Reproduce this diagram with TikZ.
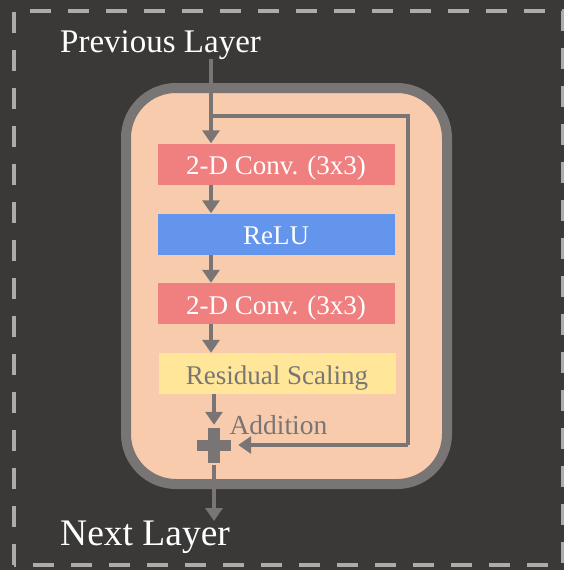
\documentclass[tikz,border=0pt]{standalone}
\usepackage{fontspec}
\setmainfont{Liberation Serif}
\usetikzlibrary{arrows.meta}
\definecolor{bgdark}{HTML}{3A3938}
\definecolor{dashgray}{HTML}{AEACAA}
\definecolor{framegray}{HTML}{787574}
\definecolor{peach}{HTML}{F8CBAD}
\definecolor{convred}{HTML}{F08080}
\definecolor{relublue}{HTML}{6495ED}
\definecolor{scaleyellow}{HTML}{FFE699}
\newcommand\layerWidth{237}
\newcommand\flowX{211}

\begin{document}
\begin{tikzpicture}[x=1pt, y=-1pt,
    layer/.style={minimum width=\layerWidth pt, minimum height=41pt, inner sep=0pt, text height=21pt, text depth=0pt, font=\fontsize{27}{30}\selectfont},
    flow/.style={draw=framegray, line width=4.5pt, -{Triangle[length=13pt, width=17pt]}}]
    \useasboundingbox (0,0) rectangle (564,570);
    % Draw the background and the dashed border
    \fill [bgdark] (0,0) rectangle (564,570);
    \draw [dashgray, line width=4.5pt, dash pattern=on 21pt off 17pt] (14,565) -- (14,11) -- (563,11) -- (563,565) -- cycle;
    % Draw the residual block
    \draw [framegray, line width=10pt, fill=peach, rounded corners=50pt] (126,88) rectangle (447,484);
    % Draw the layers
    \node [layer, fill=convred, text=white] (conv1) at (276,164) {2-D Conv. (3x3)};
    \node [layer, fill=relublue, text=white] (relu) at (276,234) {ReLU};
    \node [layer, fill=convred, text=white] (conv2) at (276,303.5) {2-D Conv. (3x3)};
    \node [layer, fill=scaleyellow, text=framegray] (scaling) at (277,373.5) {Residual Scaling};
    % Draw the addition
    \node [minimum size=40pt, inner sep=0pt] (addnode) at (214,445) {};
    \fill [framegray] (addnode.center) +(-17,-5.5) rectangle +(17,5.5);
    \fill [framegray] (addnode.center) +(-6,-17.5) rectangle +(6,17.5);
    \node [framegray, anchor=west, font=\fontsize{27.5}{30}\selectfont] (addlabel) at (226,425) {Addition};
    % Draw the input and output text
    \node [white, anchor=base west, inner sep=0pt, font=\fontsize{33}{36}\selectfont] (prev) at (60,52) {Previous Layer};
    \node [white, anchor=base west, inner sep=0pt, font=\fontsize{37.5}{40}\selectfont] (next) at (60,545) {Next Layer};
    \coordinate (inTop) at (\flowX,59);
    \coordinate (split) at (\flowX,116);
    \coordinate (skipTop) at (408,116);
    \coordinate (skipBottom) at (408,445);
    \coordinate (outTip) at (\flowX+3,521);
    % Draw the connectors
    \draw [flow] (inTop) -- (conv1.north -| inTop);
    \draw [flow] (conv1.south -| inTop) -- (relu.north -| inTop);
    \draw [flow] (relu.south -| inTop) -- (conv2.north -| inTop);
    \draw [flow] (conv2.south -| inTop) -- (scaling.north -| inTop);
    \draw [flow] (scaling.south -| addnode) -- (addnode.north);
    \draw [flow, -] (split) -- (skipTop) -- (skipBottom);
    \draw [flow, shorten >=4pt] (skipBottom) -- (addnode.east);
    \draw [flow] (addnode.south) -- (outTip);
\end{tikzpicture}
\end{document}
